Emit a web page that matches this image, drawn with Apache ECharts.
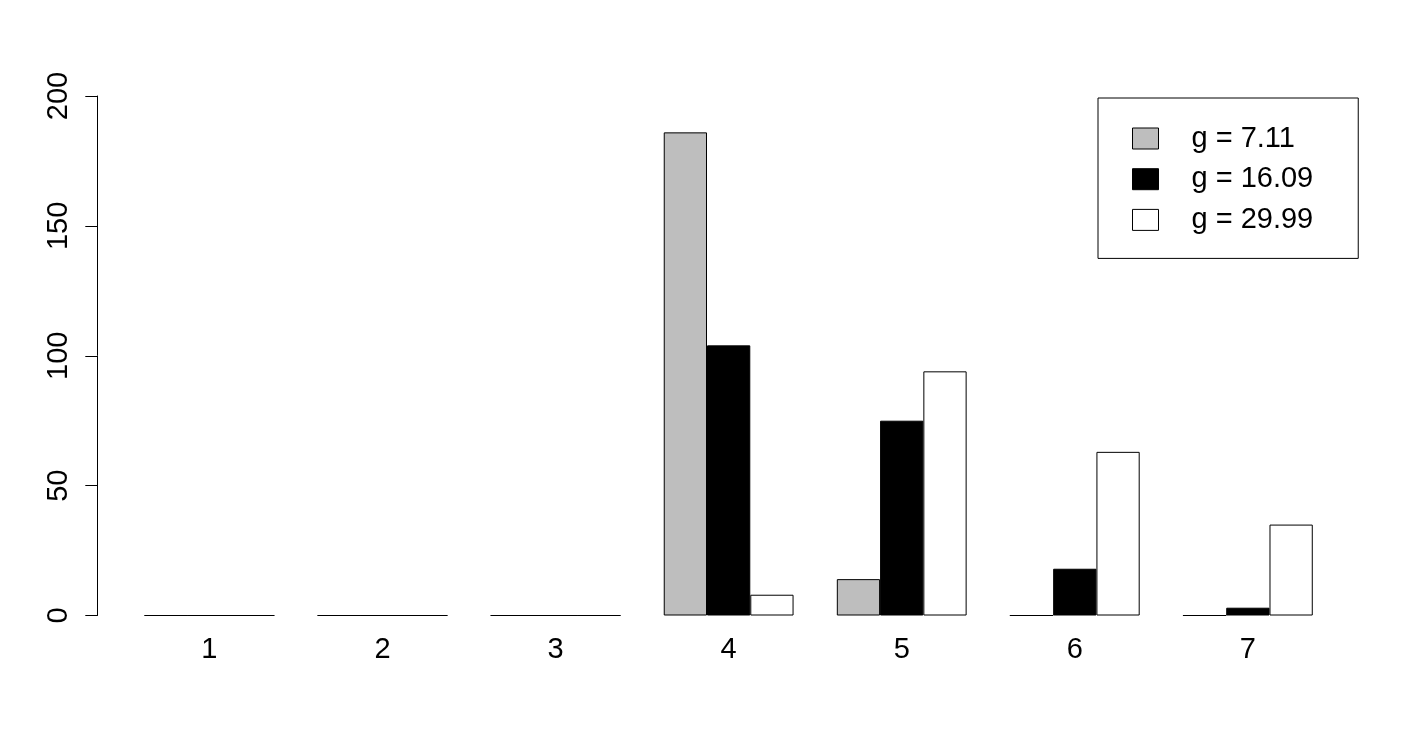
<!DOCTYPE html>
<html>
<head>
<meta charset="utf-8">
<script src="https://cdn.jsdelivr.net/npm/echarts@6/dist/echarts.min.js"></script>
<style>
  html, body { margin: 0; padding: 0; background: #ffffff; }
  #chart { width: 1404px; height: 742px; }
</style>
</head>
<body>
<div id="chart"></div>
<script>
const categories = ['1', '2', '3', '4', '5', '6', '7'];
const seriesNames = ['g = 7.11', 'g = 16.09', 'g = 29.99'];
const valuesLow = [0, 0, 0, 186, 14, 0, 0];
const valuesMid = [0, 0, 0, 104, 75, 18, 3];
const valuesHigh = [0, 0, 0, 8, 94, 63, 35];
const yTicks = [0, 50, 100, 150, 200];

const fillColors = ['#bebebe', '#000000', '#ffffff'];
const seriesValues = [valuesLow, valuesMid, valuesHigh];

document.addEventListener('DOMContentLoaded', function () {
    const chart = echarts.init(document.getElementById('chart'));
    const font = 'Liberation Sans, Arial, sans-serif';

    const option = {
        backgroundColor: '#ffffff',
        animation: false,
        grid: {
            left: 122.9,
            right: 69.6,
            top: 96,
            bottom: 126.5
        },
        legend: {
            orient: 'vertical',
            left: 1098,
            top: 98,
            padding: [26, 45, 24, 34],
            borderColor: '#000000',
            borderWidth: 1,
            itemWidth: 26,
            itemHeight: 21,
            itemGap: 11.7,
            icon: 'rect',
            itemStyle: { borderColor: '#000000', borderWidth: 1 },
            textStyle: {
                color: '#000000',
                fontSize: 29,
                fontFamily: font,
                lineHeight: 28,
                padding: [0, 0, 0, 28]
            },
            data: seriesNames
        },
        xAxis: {
            type: 'category',
            data: categories,
            axisLine: { show: false },
            axisTick: { show: false },
            axisLabel: {
                color: '#000000',
                fontSize: 29,
                fontFamily: font,
                margin: 20
            },
            splitLine: { show: false }
        },
        yAxis: {
            type: 'value',
            min: yTicks[0],
            max: yTicks[yTicks.length - 1],
            interval: 50,
            offset: 25.6,
            axisLine: { show: true, lineStyle: { color: '#000000', width: 1 } },
            axisTick: { show: true, length: 12, lineStyle: { color: '#000000', width: 1 } },
            axisLabel: {
                color: '#000000',
                fontSize: 29,
                fontFamily: font,
                rotate: 90,
                margin: 24
            },
            splitLine: { show: false }
        },
        series: seriesNames.map(function (name, i) {
            return {
                name: name,
                type: 'bar',
                data: seriesValues[i],
                barWidth: 43.27,
                barGap: '0%',
                itemStyle: {
                    color: fillColors[i],
                    borderColor: '#000000',
                    borderWidth: 1
                },
                emphasis: { disabled: true }
            };
        })
    };

    chart.setOption(option);
});
</script>
</body>
</html>
